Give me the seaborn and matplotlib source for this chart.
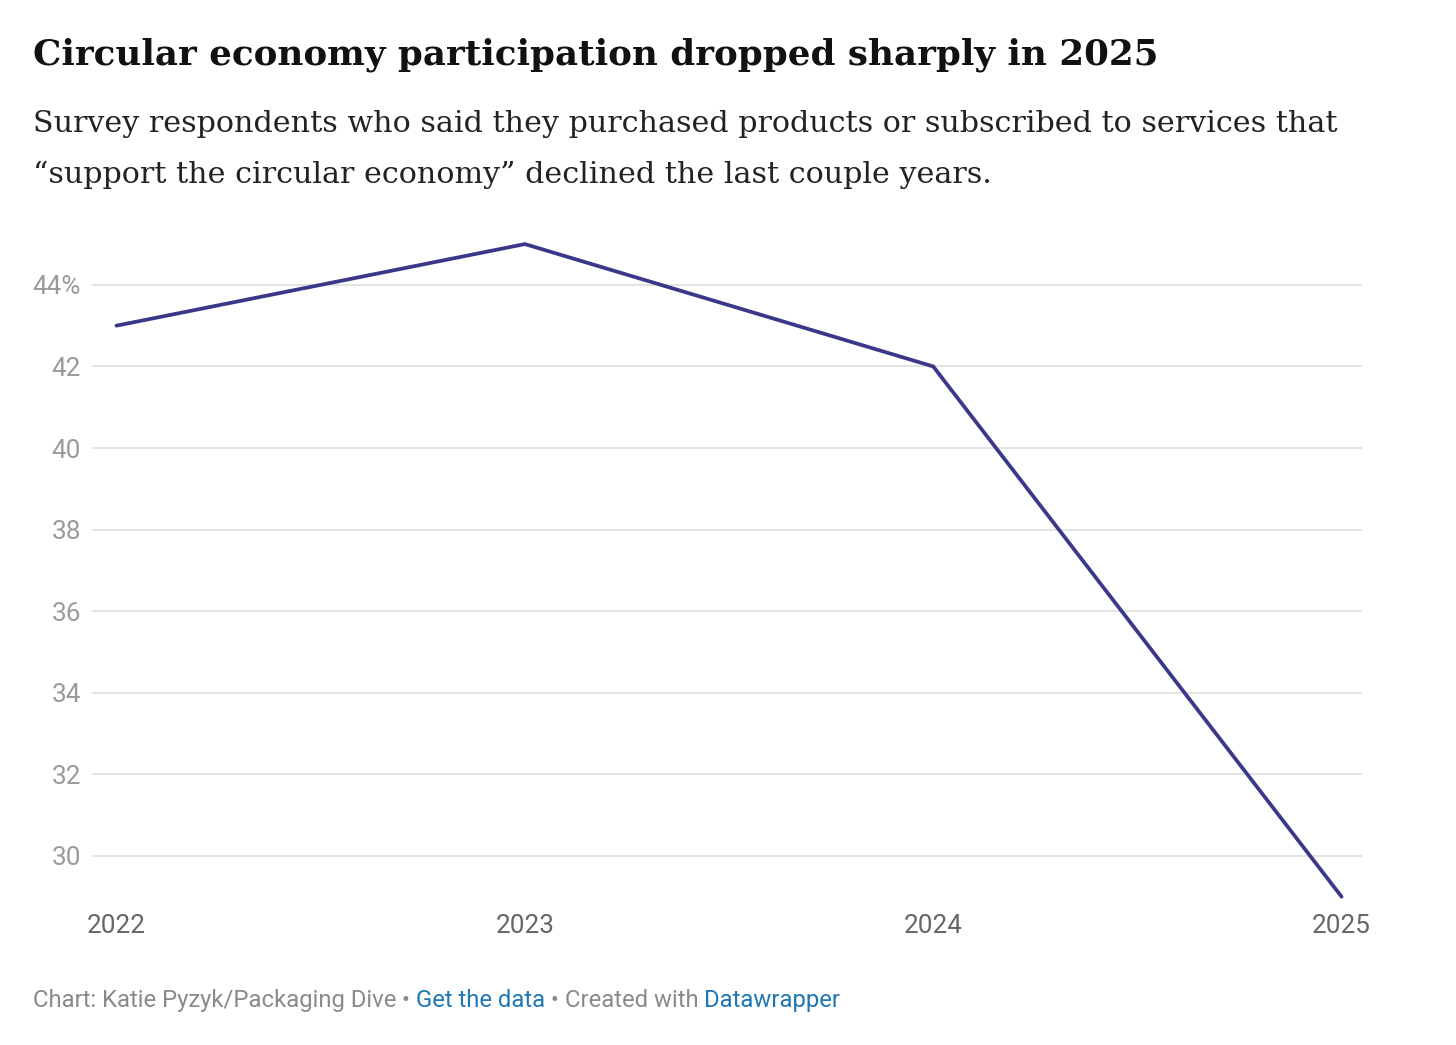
import matplotlib
matplotlib.use("Agg")
import matplotlib.pyplot as plt
import seaborn as sns
import pandas as pd

years = [2022, 2023, 2024, 2025]
share = [43, 45, 42, 29]
yticks = [30, 32, 34, 36, 38, 40, 42, 44]
ytick_labels = ["30", "32", "34", "36", "38", "40", "42", "44%"]

title = "Circular economy participation dropped sharply in 2025"
subtitle1 = "Survey respondents who said they purchased products or subscribed to services that"
subtitle2 = "\u201csupport the circular economy\u201d declined the last couple years."
footer_parts = [("Chart: Katie Pyzyk/Packaging Dive", "#8a8a8a"),
                (" \u2022 ", "#8a8a8a"),
                ("Get the data", "#1f78b4"),
                (" \u2022 ", "#8a8a8a"),
                ("Created with ", "#8a8a8a"),
                ("Datawrapper", "#1f78b4")]

df = pd.DataFrame({"year": years, "share": share})

sns.set_theme(style="white")
plt.rcParams["font.family"] = ["Roboto", "DejaVu Sans"]

W, H = 1456, 1045
fig = plt.figure(figsize=(W / 100, H / 100), dpi=100)
fig.patch.set_facecolor("white")

ax = fig.add_axes([92 / W, 1 - 900 / H, (1362 - 92) / W, (900 - 240) / H])
sns.lineplot(data=df, x="year", y="share", ax=ax, color="#3b3889",
             linewidth=2.7, solid_capstyle="round", solid_joinstyle="miter")

ax.set_xlim(2021.94, 2025.05)
ax.set_ylim(28.92, 45.10)
ax.set_yticks(yticks)
ax.set_yticklabels(ytick_labels)
ax.set_xticks(years)
ax.set_xticklabels([str(y) for y in years])
ax.set_xlabel("")
ax.set_ylabel("")
for s in ax.spines.values():
    s.set_visible(False)
ax.grid(False)
for yv in yticks:
    ax.axhline(yv, color="#e0e0e0", linewidth=1.3, zorder=0)
ax.tick_params(axis="y", length=0, pad=8, labelsize=18.8, labelcolor="#9a9a9a")
ax.tick_params(axis="x", length=0, pad=10, labelsize=18.8, labelcolor="#666666")
for lab in ax.get_yticklabels():
    lab.set_fontfamily(["Roboto", "DejaVu Sans"])
for lab in ax.get_xticklabels():
    lab.set_fontfamily(["Roboto", "DejaVu Sans"])

fig.canvas.draw()
renderer = fig.canvas.get_renderer()


def fit_text(x_px, y_px, s, target_w, size, **kw):
    t = fig.text(x_px / W, 1 - y_px / H, s, fontsize=size, va="baseline", ha="left", **kw)
    w = t.get_window_extent(renderer).width
    t.set_fontsize(size * target_w / w)
    return t


fit_text(33, 64, title, 1127, 28, family=["DejaVu Serif"], fontweight="bold", color="#111111")
t1 = fit_text(33, 132, subtitle1, 1304, 22, family=["DejaVu Serif"], color="#222222")
fs = t1.get_fontsize()
fig.text(33 / W, 1 - 183 / H, subtitle2, fontsize=fs, va="baseline", ha="left",
         family=["DejaVu Serif"], color="#222222")

# footer: measure total width then place segments
size = 16
tmp = fig.text(0, 0, "".join(p for p, _ in footer_parts), fontsize=size)
total = tmp.get_window_extent(renderer).width
tmp.remove()
size = size * (843 - 33) / total
x = 33
for s, c in footer_parts:
    t = fig.text(x / W, 1 - 1007 / H, s, fontsize=size, color=c, va="baseline", ha="left")
    x += t.get_window_extent(renderer).width

fig.savefig("out.png", dpi=100, facecolor="white")
